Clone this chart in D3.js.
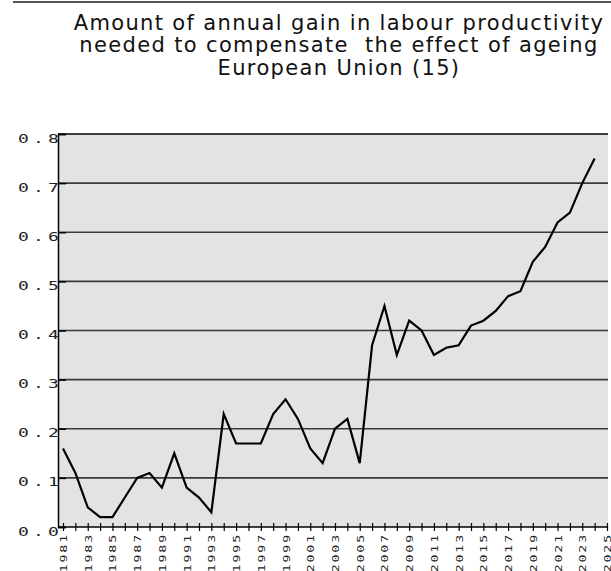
<!DOCTYPE html>
<html>
<head>
<meta charset="utf-8">
<script src="https://cdn.jsdelivr.net/npm/d3@7.9.0/dist/d3.min.js"></script>
<style>
  body { margin: 0; background: #fff; }
  svg { display: block; }
</style>
</head>
<body>
<svg id="chart" width="611" height="571"></svg>
<script>
const titleLines = [
  'Amount of annual gain in labour productivity',
  'needed to compensate  the effect of ageing',
  'European Union (15)'
];

const years = d3.range(1981, 2025);   // 1981..2024 have data
const axisYears = d3.range(1981, 2026); // axis runs to 2025
const gain = [
  0.16, 0.11, 0.04, 0.02, 0.02, 0.06, 0.10, 0.11, 0.08, 0.15,
  0.08, 0.06, 0.03, 0.23, 0.17, 0.17, 0.17, 0.23, 0.26, 0.22,
  0.16, 0.13, 0.20, 0.22, 0.13, 0.37, 0.45, 0.35, 0.42, 0.40,
  0.35, 0.365, 0.37, 0.41, 0.42, 0.44, 0.47, 0.48, 0.54, 0.57,
  0.62, 0.64, 0.70, 0.75
];
const yTicks = [0, 0.1, 0.2, 0.3, 0.4, 0.5, 0.6, 0.7, 0.8];

const svg = d3.select('#chart');

// top rule
svg.append('line')
  .attr('x1', 13).attr('x2', 611).attr('y1', 2).attr('y2', 2)
  .attr('stroke', '#555').attr('stroke-width', 2);

// title
svg.append('g').selectAll('text')
  .data(titleLines)
  .join('text')
  .attr('x', 339)
  .attr('y', (d, i) => 29.5 + i * 22.5)
  .attr('text-anchor', 'middle')
  .style('font-family', '"DejaVu Sans", sans-serif')
  .style('font-size', '21px')
  .style('letter-spacing', '1.35px')
  .style('white-space', 'pre')
  .style('fill', '#111')
  .text(d => d);

const plotL = 58, plotR = 608, plotT = 134, plotB = 527;

const x = d3.scaleLinear().domain([1981, 2025]).range([63, 607]);
const y = d3.scaleLinear().domain([0, 0.8]).range([plotB, plotT]);

// plot background
svg.append('rect')
  .attr('x', plotL).attr('y', plotT)
  .attr('width', plotR - plotL).attr('height', plotB - plotT)
  .attr('fill', '#e3e3e3');

// gridlines
svg.append('g').selectAll('line')
  .data(yTicks.filter(d => d > 0 && d < 0.8))
  .join('line')
  .attr('x1', plotL).attr('x2', plotR)
  .attr('y1', d => y(d)).attr('y2', d => y(d))
  .attr('stroke', '#3a3a3a').attr('stroke-width', 1.6);

// top border
svg.append('line')
  .attr('x1', plotL).attr('x2', plotR).attr('y1', plotT).attr('y2', plotT)
  .attr('stroke', '#000').attr('stroke-width', 1.5);

// y axis
const yAxis = svg.append('g')
  .attr('transform', `translate(${plotL},0)`)
  .call(d3.axisRight(y).tickValues(yTicks).tickSize(8).tickFormat(''));
yAxis.select('.domain').attr('stroke', '#000').attr('stroke-width', 1.5);
yAxis.selectAll('.tick line').attr('stroke', '#000').attr('stroke-width', 1.5);

svg.append('g').selectAll('text')
  .data(yTicks)
  .join('text')
  .attr('transform', d => `translate(${plotL + 5},${y(d) + 8.5}) scale(1.5,1)`)
  .attr('text-anchor', 'end')
  .style('font-family', '"DejaVu Sans Mono", monospace')
  .style('font-size', '12px')
  .style('letter-spacing', '2.8px')
  .style('fill', '#222')
  .text(d => d.toFixed(1));

// x axis
const xAxis = svg.append('g')
  .attr('transform', `translate(0,${plotB})`)
  .call(d3.axisBottom(x).tickValues(axisYears).tickSize(4).tickFormat(''));
xAxis.select('.domain').attr('d', `M${plotL},0H${plotR}`).attr('stroke', '#000').attr('stroke-width', 1.5);
xAxis.selectAll('.tick line').attr('y1', -4).attr('y2', 4).attr('stroke', '#000').attr('stroke-width', 1.2);

svg.append('g').selectAll('text')
  .data(axisYears.filter(d => d % 2 === 1))
  .join('text')
  .attr('transform', d => `translate(${x(d) + 4},${plotB + 6}) rotate(-90) scale(1.4,1)`)
  .attr('text-anchor', 'end')
  .style('font-family', '"DejaVu Sans Mono", monospace')
  .style('font-size', '9.5px')
  .style('letter-spacing', '1.3px')
  .style('fill', '#222')
  .text(d => d);

// series line
const line = d3.line()
  .x((d, i) => x(years[i]))
  .y(d => y(d));

svg.append('path')
  .datum(gain)
  .attr('d', line)
  .attr('fill', 'none')
  .attr('stroke', '#000')
  .attr('stroke-width', 2.2)
  .attr('stroke-linejoin', 'miter');
</script>
</body>
</html>
